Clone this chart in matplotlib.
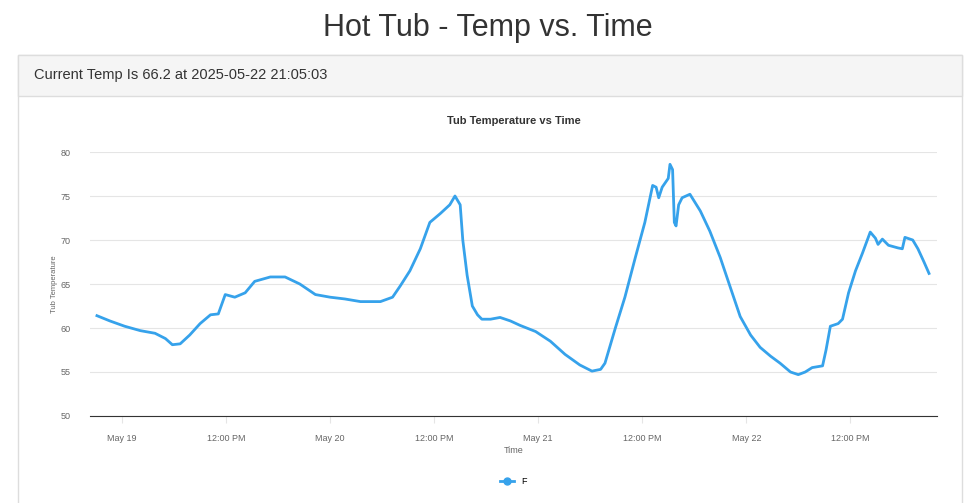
import matplotlib
matplotlib.use("Agg")
import matplotlib.pyplot as plt
from matplotlib.patches import Rectangle
import pandas as pd

plt.rcParams["font.family"] = ["Liberation Sans", "DejaVu Sans"]

# hours since 2025-05-19 00:00, temperature in F
hours = [-2.9, -1.4, 0.3, 2.1, 3.8, 5.0, 5.8, 6.7, 7.8, 9.0, 10.2, 11.1, 11.9, 13.0,
         14.2, 15.3, 17.1, 18.8, 20.5, 22.3, 24.0, 25.7, 27.5, 29.8, 31.2, 32.1, 33.2,
         34.4, 35.5, 36.7, 37.8, 38.4, 39.0, 39.3, 39.8, 40.4, 41.0, 41.5, 42.5, 43.6,
         44.8, 45.9, 47.7, 49.4, 51.1, 52.8, 54.2, 55.2, 55.7, 56.3, 56.9, 58.0, 59.2,
         60.3, 61.2, 61.6, 61.9, 62.3, 63.0, 63.2, 63.5, 63.7, 63.9, 64.2, 64.6, 65.5,
         66.7, 67.8, 69.0, 70.2, 71.3, 72.5, 73.6, 74.8, 75.9, 77.1, 78.0, 78.8, 79.6,
         80.8, 81.2, 81.7, 82.6, 83.1, 83.8, 84.6, 85.4, 86.3, 86.9, 87.2, 87.7, 88.4,
         89.5, 90.0, 90.3, 91.2, 91.8, 92.5, 93.08]
temps = [61.4, 60.8, 60.2, 59.7, 59.4, 58.8, 58.1, 58.2, 59.2, 60.5, 61.5, 61.6, 63.8, 63.5,
         64.0, 65.3, 65.8, 65.8, 65.0, 63.8, 63.5, 63.3, 63.0, 63.0, 63.5, 64.8, 66.5,
         69.0, 72.0, 73.0, 74.0, 75.0, 74.0, 70.0, 66.0, 62.5, 61.5, 61.0, 61.0, 61.2,
         60.8, 60.3, 59.6, 58.5, 57.0, 55.8, 55.1, 55.3, 56.0, 58.0, 60.0, 63.5, 68.0,
         72.0, 76.2, 76.0, 74.8, 76.0, 77.0, 78.6, 78.0, 72.0, 71.6, 74.0, 74.8, 75.2,
         73.3, 71.0, 68.0, 64.5, 61.3, 59.2, 57.8, 56.8, 56.0, 55.0, 54.7, 55.0, 55.5,
         55.7, 57.5, 60.2, 60.5, 61.0, 64.0, 66.5, 68.5, 70.9, 70.2, 69.5, 70.1, 69.4,
         69.1, 69.0, 70.3, 70.0, 69.0, 67.5, 66.2]
tick_labels = ["May 19", "12:00 PM", "May 20", "12:00 PM",
               "May 21", "12:00 PM", "May 22", "12:00 PM"]

t0 = pd.Timestamp("2025-05-19 00:00")
times = t0 + pd.to_timedelta(hours, unit="h")

fig = plt.figure(figsize=(9.76, 5.03), dpi=100)
fig.text(0.5, 1 - 28 / 503, "Hot Tub - Temp vs. Time", ha="center", va="center",
         fontsize=22, color="#333333")
# panel and header
fig.patches.append(Rectangle((18 / 976, -0.01), 944 / 976, 1 - 55 / 503 + 0.01,
                             transform=fig.transFigure, fc="white", ec="#dddddd",
                             lw=1, zorder=-2))
fig.patches.append(Rectangle((18 / 976, 1 - 96 / 503), 944 / 976, 41 / 503,
                             transform=fig.transFigure, fc="#f5f5f5", ec="#dddddd",
                             lw=1, zorder=-1))
fig.text(34 / 976, 1 - 75 / 503, "Current Temp Is 66.2 at 2025-05-22 21:05:03",
         ha="left", va="center", fontsize=10.5, color="#333333")

ax = fig.add_axes([90 / 976, 87 / 503, 847 / 976, 264 / 503])
ax.patch.set_alpha(0)
line, = ax.plot(times, temps, color="#36a2eb", lw=2)
ax.set_ylim(50, 80)
ax.set_yticks(range(50, 81, 5))
ax.set_xlim(t0 + pd.Timedelta(hours=-3.7), t0 + pd.Timedelta(hours=94.0))
ax.set_xticks([t0 + pd.Timedelta(hours=12 * i) for i in range(len(tick_labels))])
ax.set_xticklabels(tick_labels)
ax.tick_params(labelsize=6.5, colors="#666666", length=0, pad=14)
ax.tick_params(axis="x", length=5, color="#e5e5e5", pad=8)
ax.grid(axis="y", color="#e5e5e5", lw=0.8)
for s in ["top", "right", "left"]:
    ax.spines[s].set_visible(False)
ax.spines["bottom"].set_color("#333333")
ax.set_title("Tub Temperature vs Time", fontsize=8, fontweight="bold",
             color="#333333", pad=20)
ax.set_xlabel("Time", fontsize=6.5, color="#666666", labelpad=2)
ax.set_ylabel("Tub Temperature", fontsize=5.5, color="#666666", labelpad=2)
leg = ax.legend([line], ["F"], loc="upper center", bbox_to_anchor=(0.5, -0.2),
                frameon=False, fontsize=6.5, handlelength=1.5)
leg.legend_handles[0].set_marker("o")
leg.legend_handles[0].set_markersize(5)
fig.savefig("out.png", dpi=100)
